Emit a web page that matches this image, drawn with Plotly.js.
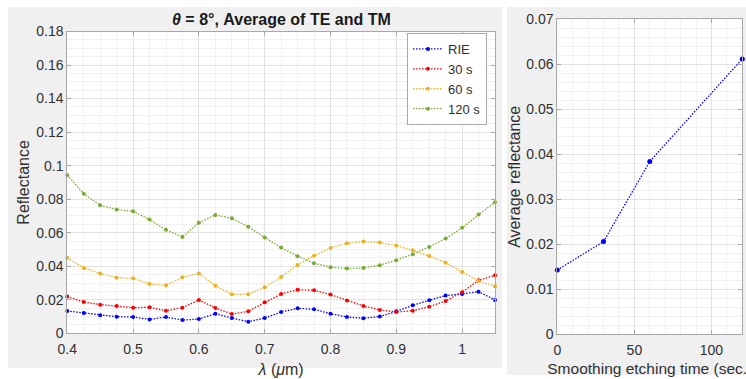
<!DOCTYPE html>
<html>
<head>
<meta charset="utf-8">
<script src="https://cdn.plot.ly/plotly-3.0.1.min.js"></script>
<style>html,body{margin:0;padding:0;background:#fff;}</style>
</head>
<body>
<div id="chart" style="width:746px;height:379px"></div>
<script>
// Wavelength grid (µm)
const wavelength = [0.4, 0.425, 0.45, 0.475, 0.5, 0.525, 0.55, 0.575, 0.6, 0.625, 0.65, 0.675, 0.7,
  0.725, 0.75, 0.775, 0.8, 0.825, 0.85, 0.875, 0.9, 0.925, 0.95, 0.975, 1.0, 1.025, 1.05];

// Reflectance, average of TE and TM at 8 degrees
const reflRIE = [0.0133, 0.0121, 0.0107, 0.0099, 0.0097, 0.0083, 0.0097, 0.0079, 0.0085, 0.0117, 0.0091,
  0.0069, 0.0091, 0.0127, 0.0149, 0.0143, 0.0117, 0.0097, 0.0090, 0.0100, 0.0131, 0.0167, 0.0197, 0.0225,
  0.0235, 0.0248, 0.0199];
const refl30s = [0.0219, 0.0187, 0.0171, 0.0163, 0.0153, 0.0155, 0.0135, 0.0153, 0.0199, 0.0151, 0.0115,
  0.0131, 0.0185, 0.0235, 0.0260, 0.0257, 0.0231, 0.0195, 0.0163, 0.0139, 0.0127, 0.0135, 0.0159, 0.0193,
  0.0245, 0.0316, 0.0346];
const refl60s = [0.0450, 0.0390, 0.0356, 0.0332, 0.0328, 0.0294, 0.0286, 0.0334, 0.0356, 0.0284, 0.0233,
  0.0233, 0.0275, 0.0336, 0.0408, 0.0463, 0.0509, 0.0537, 0.0547, 0.0541, 0.0523, 0.0495, 0.0461, 0.0421,
  0.0366, 0.0312, 0.0281];
const refl120s = [0.0943, 0.0832, 0.0764, 0.0738, 0.0728, 0.0678, 0.0617, 0.0575, 0.0659, 0.0706, 0.0686,
  0.0635, 0.0572, 0.0511, 0.0460, 0.0418, 0.0394, 0.0386, 0.0390, 0.0406, 0.0436, 0.0472, 0.0515, 0.0565,
  0.0629, 0.0708, 0.0782];

const seriesNames = ['RIE', '30 s', '60 s', '120 s'];
const seriesColors = ['#0000ff', '#ff0000', '#edb120', '#77ac30'];

// Average reflectance versus smoothing etching time
const etchTime = [0, 30, 60, 120];
const avgRefl = [0.0143, 0.0206, 0.0384, 0.0612];

const W = 746, H = 379;
const FONT = 'Liberation Sans, Arial, Helvetica, sans-serif';
const DOTS = '1.5px,1.5px';

function axisStyle(extra) {
  return Object.assign({
    showline: true, linecolor: '#a8a8a8', linewidth: 1, mirror: 'ticks',
    ticks: 'inside', ticklen: 4, tickcolor: '#a8a8a8',
    showgrid: true, gridcolor: '#e3e3e3', gridwidth: 1,
    zeroline: false, fixedrange: true,
    tickfont: {family: FONT, size: 14, color: '#303030'}
  }, extra);
}

const spectra = [reflRIE, refl30s, refl60s, refl120s];
const traces = spectra.map((ys, i) => ({
  type: 'scatter', mode: 'lines+markers',
  x: wavelength, y: ys, name: seriesNames[i],
  line: {color: seriesColors[i], width: 1.3, dash: DOTS},
  marker: {color: seriesColors[i], size: 4},
  cliponaxis: false, xaxis: 'x', yaxis: 'y'
}));
traces.push({
  type: 'scatter', mode: 'lines+markers',
  x: etchTime, y: avgRefl, showlegend: false,
  line: {color: '#0000ff', width: 1.3, dash: DOTS},
  marker: {color: '#0000ff', size: 5},
  cliponaxis: false, xaxis: 'x2', yaxis: 'y2'
});

// grey figure panels, with white axes areas drawn over them
const panelShapes = [
  {type: 'rect', xref: 'paper', yref: 'paper', layer: 'below', line: {width: 0}, fillcolor: '#f0f0f0',
   x0: 8 / W, x1: 502 / W, y0: 1 - 368 / H, y1: 1 - 7 / H},
  {type: 'rect', xref: 'paper', yref: 'paper', layer: 'below', line: {width: 0}, fillcolor: '#f0f0f0',
   x0: 507 / W, x1: 1, y0: 1 - 375 / H, y1: 1 - 7 / H},
  {type: 'rect', xref: 'x domain', yref: 'y domain', layer: 'below', line: {width: 0}, fillcolor: '#ffffff',
   x0: 0, x1: 1, y0: 0, y1: 1},
  {type: 'rect', xref: 'x2 domain', yref: 'y2 domain', layer: 'below', line: {width: 0}, fillcolor: '#ffffff',
   x0: 0, x1: 1, y0: 0, y1: 1}
];

const layout = {
  width: W, height: H, autosize: false,
  margin: {l: 0, r: 0, t: 0, b: 0},
  paper_bgcolor: '#ffffff', plot_bgcolor: '#ffffff',
  font: {family: FONT, color: '#303030'},
  showlegend: true,
  shapes: panelShapes,
  xaxis: axisStyle({
    domain: [67.3 / W, 495 / W], range: [0.4, 1.05], dtick: 0.1, tick0: 0.4,
    minor: {dtick: 0.025, showgrid: true, gridcolor: '#f1f1f1'},
    anchor: 'y', ticklabelstandoff: 3,
    title: {text: '<i>λ</i> (<i>μ</i>m)', font: {family: FONT, size: 16, color: '#303030'}, standoff: 7}
  }),
  yaxis: axisStyle({
    domain: [1 - 333.3 / H, 1 - 31.5 / H], range: [0, 0.18], dtick: 0.02,
    minor: {dtick: 0.005, showgrid: true, gridcolor: '#f1f1f1'},
    anchor: 'x',
    title: {text: 'Reflectance', font: {family: FONT, size: 16, color: '#303030'}, standoff: 2}
  }),
  xaxis2: axisStyle({
    domain: [557.3 / W, 742.3 / W], range: [0, 120], dtick: 50,
    minor: {dtick: 10, showgrid: true, gridcolor: '#f1f1f1'},
    anchor: 'y2', ticklabelstandoff: 3,
    title: {text: 'Smoothing etching time (sec.)', font: {family: FONT, size: 15.5, color: '#303030'}, standoff: 6}
  }),
  yaxis2: axisStyle({
    domain: [1 - 334.3 / H, 1 - 19.3 / H], range: [0, 0.07], dtick: 0.01,
    minor: {dtick: 0.002, showgrid: true, gridcolor: '#f1f1f1'},
    anchor: 'x2',
    title: {text: 'Average reflectance', font: {family: FONT, size: 16, color: '#303030'}, standoff: 1}
  }),
  legend: {
    x: 487 / W, xanchor: 'right', y: 1 - 33 / H, yanchor: 'top',
    bgcolor: '#ffffff', bordercolor: '#a8a8a8', borderwidth: 1,
    font: {family: FONT, size: 13, color: '#303030'},
    tracegroupgap: 0, itemwidth: 30
  },
  annotations: [
    {xref: 'paper', yref: 'paper', x: 281 / W, y: 1 - 20 / H, xanchor: 'center', yanchor: 'middle',
     showarrow: false, text: '<b><i>θ</i> = 8°, Average of TE and TM</b>',
     font: {family: FONT, size: 16, color: '#1a1a1a'}}
  ]
};

Plotly.newPlot('chart', traces, layout, {displayModeBar: false, staticPlot: true});
</script>
</body>
</html>
